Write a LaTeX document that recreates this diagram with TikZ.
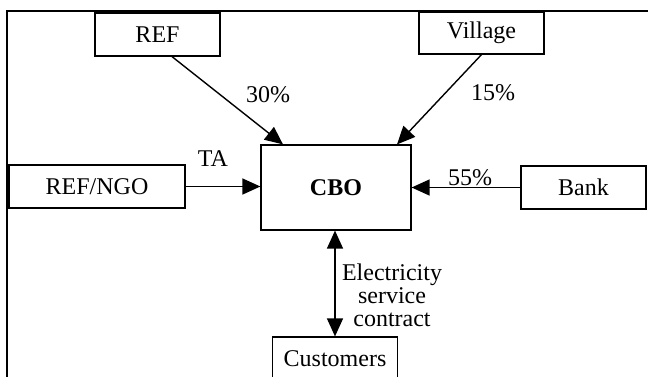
\documentclass[tikz,border=0pt]{standalone}
\usepackage{fontspec}
\setmainfont{Liberation Serif}
\usetikzlibrary{arrows.meta}
\begin{document}
\begin{tikzpicture}
  [x=0.5pt,y=-0.5pt,font=\fontsize{12}{11.5}\selectfont,
   every node/.style={inner sep=0pt},
   party/.style={draw,line width=0.6pt,minimum width=62.5pt,minimum height=21.5pt},
   flow/.style={line width=0.7pt,-{Triangle[length=9pt,width=8pt]}}]
    \useasboundingbox (0,0) rectangle (648,376);
    \begin{scope}
      \clip (0,0) rectangle (648,376);
      \draw[line width=1pt] (660,11) -- (6.5,11) -- (6.5,390);
      \node (cust) [party] at (335,358.5) {Customers};
    \end{scope}

    \node (ref)    [party] at (157.5,34.5) {REF};
    \node (vil)    [party,minimum height=21pt] at (481.5,33) {Village};
    \node (refngo) [party,minimum width=88pt] at (97,186.5) {REF/NGO};
    \node (cbo)    [party,minimum width=75pt,minimum height=42.5pt] at (336,187.5) {\textbf{CBO}};
    \node (bank)   [party] at (583.5,187.5) {Bank};

    \draw[flow] ([xshift=7.25pt]ref.south) -- ([xshift=-26.5pt]cbo.north);
    \draw[flow] (vil.south) -- ([xshift=30.5pt]cbo.north);
    \draw[flow] (refngo.east) -- (cbo.west |- refngo.east);
    \draw[flow] (bank.west) -- (cbo.east |- bank.west);
    \draw[line width=0.7pt,{Triangle[length=9pt,width=8pt]}-{Triangle[length=9pt,width=8pt]}]
      (cbo.south -| cust.north) -- (cust.north);

    \node (p30)  at (268,95)  {30\%};
    \node (p15)  at (493,93)  {15\%};
    \node (ta)   at (213,159) {TA};
    \node (p55)  at (470,178) {55\%};
    \node (esc) [align=center] at (392,295) {Electricity\\service\\contract};
  \end{tikzpicture}
\end{document}
